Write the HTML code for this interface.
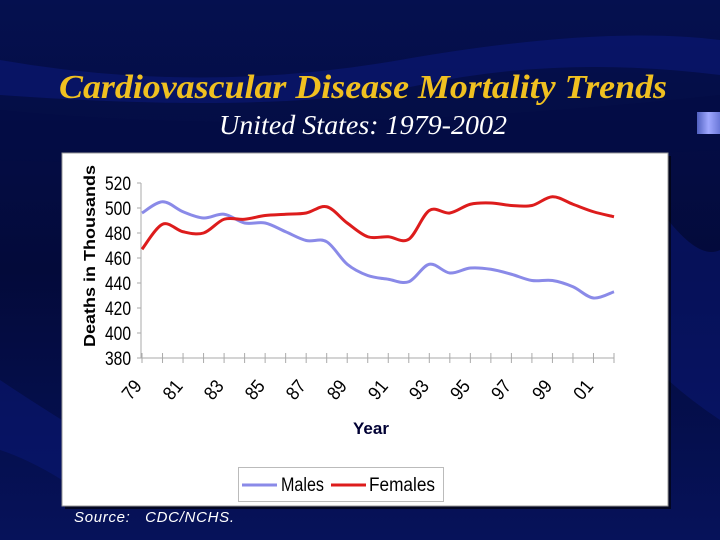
<!DOCTYPE html>
<html><head><meta charset="utf-8"><style>
html,body{margin:0;padding:0;width:720px;height:540px;overflow:hidden;background:#020830}
</style></head><body>
<svg width="720" height="540" viewBox="0 0 720 540" xmlns="http://www.w3.org/2000/svg">
<defs>
<linearGradient id="bg" x1="0" y1="0" x2="0" y2="1"><stop offset="0" stop-color="#05104f"/><stop offset="0.5" stop-color="#030a3a"/><stop offset="1" stop-color="#06125a"/></linearGradient>
<linearGradient id="tab" x1="0" y1="0" x2="1" y2="0"><stop offset="0" stop-color="#5060c0"/><stop offset="0.5" stop-color="#a0a8ff"/><stop offset="1" stop-color="#6a78d8"/></linearGradient>
</defs>
<rect width="720" height="540" fill="url(#bg)"/>
<path d="M0 60 Q200 95 400 60 T720 40 L720 75 Q560 55 420 85 T0 95 Z" fill="#0b1a80" opacity="0.5"/>
<path d="M0 110 Q300 140 720 95 L720 150 Q300 170 0 160 Z" fill="#040c45" opacity="0.6"/>
<path d="M668 220 Q700 260 720 250 L720 420 Q690 400 668 380 Z" fill="#0a1878" opacity="0.5"/>
<path d="M0 380 Q30 400 62 420 L62 480 Q30 460 0 450 Z" fill="#0a1878" opacity="0.5"/>
<rect x="697" y="112" width="23" height="22" fill="url(#tab)"/>
<text x="59" y="98" font-family="Liberation Serif, serif" font-style="italic" font-weight="bold" font-size="34" fill="#f0c020" textLength="608" lengthAdjust="spacingAndGlyphs">Cardiovascular Disease Mortality Trends</text>
<text x="219" y="134" font-family="Liberation Serif, serif" font-style="italic" font-size="27" fill="#ffffff" textLength="288" lengthAdjust="spacingAndGlyphs">United States: 1979-2002</text>
<rect x="65" y="156" width="606" height="353" fill="#000" opacity="0.6"/>
<rect x="62" y="153" width="606" height="353" fill="#ffffff" stroke="#999" stroke-width="1"/>
<g id="axes"></g>
<g id="plot"></g>
<text x="371" y="434" text-anchor="middle" font-family="Liberation Sans, sans-serif" font-weight="bold" font-size="17" fill="#000033">Year</text>
<text transform="translate(95,256) rotate(-90)" text-anchor="middle" font-family="Liberation Sans, sans-serif" font-weight="bold" font-size="16" fill="#000" textLength="182" lengthAdjust="spacingAndGlyphs">Deaths in Thousands</text>
<g>
<rect x="238.5" y="467.5" width="205" height="34" fill="#fff" stroke="#bbb"/>
<g><line x1="242" y1="485" x2="277" y2="485" stroke="#8a8ae8" stroke-width="3"/><text x="281" y="491" font-family="Liberation Sans, sans-serif" font-size="19" fill="#000" textLength="43" lengthAdjust="spacingAndGlyphs">Males</text></g>
<g><line x1="331" y1="485" x2="366" y2="485" stroke="#dd1c1c" stroke-width="3"/><text x="369" y="491" font-family="Liberation Sans, sans-serif" font-size="19" fill="#000" textLength="66" lengthAdjust="spacingAndGlyphs">Females</text></g>
</g>
<text x="74" y="522" font-family="Liberation Sans, sans-serif" font-style="italic" font-size="15" fill="#fff" textLength="160" xml:space="preserve">Source:   CDC/NCHS.</text>
</svg>
<script>
const years = [79,80,81,82,83,84,85,86,87,88,89,90,91,92,93,94,95,96,97,98,99,0,1,2];
const males = [496,505,497,492,495,488,488,481,474,473,455,446,443,441,455,448,452,451,447,442,442,437,428,433];
const females = [467,487,481,480,491,491,494,495,496,501,488,477,477,475,498,496,503,504,502,502,509,503,497,493];
const yTicks = [380,400,420,440,460,480,500,520];
const xLabels = ["79","81","83","85","87","89","91","93","95","97","99","01"];
const NS='http://www.w3.org/2000/svg';
const x0=142, x1=614, yTop=183, yBot=358;
function xs(i){return x0+(x1-x0)*i/(years.length-1);}
function ys(v){return yBot-(v-380)/(520-380)*(yBot-yTop);}
const axes=document.getElementById('axes'), plot=document.getElementById('plot');
function mk(t,a,p){const e=document.createElementNS(NS,t);for(const k in a)e.setAttribute(k,a[k]);p.appendChild(e);return e;}
const ya=mk('line',{x1:141,y1:yTop,x2:141,y2:yBot,stroke:'#aaa'},axes);


const xa=mk('line',{x1:141,y1:yBot,x2:x1,y2:yBot,stroke:'#aaa'},axes);


yTicks.forEach(v=>{
  mk('line',{x1:137,y1:ys(v),x2:141,y2:ys(v),stroke:'#aaa'},axes);
  const t=mk('text',{x:131,y:ys(v)+7,'text-anchor':'end','font-family':'Liberation Sans, sans-serif','font-size':'19',fill:'#000',textLength:'26',lengthAdjust:'spacingAndGlyphs'},axes);
  t.textContent=v;
  
  
});
for(let i=0;i<years.length;i++){mk('line',{x1:xs(i),y1:yBot-5,x2:xs(i),y2:yBot+5,stroke:'#aaa'},axes);}
xLabels.forEach((l,k)=>{
  const cx=xs(k*2)-10, cy=396;
  const t=mk('text',{x:cx,y:cy,'text-anchor':'middle','font-family':'Liberation Sans, sans-serif','font-size':'19',fill:'#000',textLength:'19',lengthAdjust:'spacingAndGlyphs',transform:`rotate(-50 ${cx} ${cy-6})`},axes);
  t.textContent=l;
  
  
});
function path(vals){
  const p=vals.map((v,i)=>[xs(i),ys(v)]);
  let d=`M${p[0][0]},${p[0][1]}`;
  for(let i=0;i<p.length-1;i++){
    const a=p[Math.max(0,i-1)],b=p[i],c=p[i+1],e=p[Math.min(p.length-1,i+2)];
    d+=` C${b[0]+(c[0]-a[0])/6},${b[1]+(c[1]-a[1])/6} ${c[0]-(e[0]-b[0])/6},${c[1]-(e[1]-b[1])/6} ${c[0]},${c[1]}`;
  }
  return d;
}
const pm=mk('path',{d:path(males),fill:'none',stroke:'#8a8ae8','stroke-width':3},plot);


const pf=mk('path',{d:path(females),fill:'none',stroke:'#dd1c1c','stroke-width':3},plot);


</script>
</body></html>
